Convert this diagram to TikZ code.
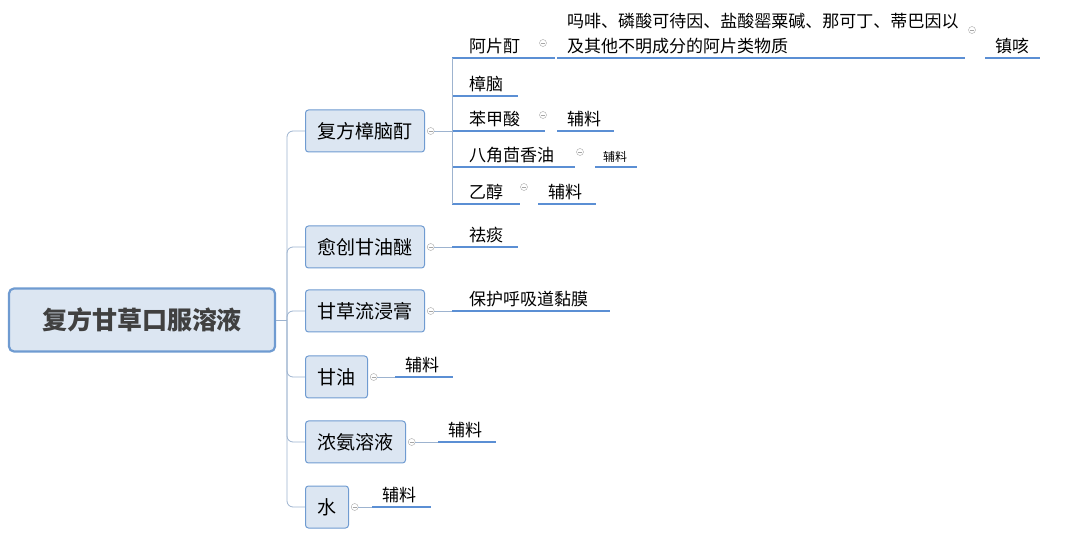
\documentclass[tikz,border=0pt]{standalone}
\usepackage{fontspec}
\setmainfont{Noto Sans CJK SC}
\XeTeXlinebreaklocale "zh"
\XeTeXlinebreakskip=0pt plus 1pt
\usetikzlibrary{positioning}
\definecolor{boxfill}{HTML}{DCE6F2}
\definecolor{boxline}{HTML}{6F9BD1}
\definecolor{uline}{HTML}{5B8FD4}
\definecolor{conn}{HTML}{9DB3CF}
\tikzset{
  topic/.style={draw=boxline,fill=boxfill,rounded corners=3pt,line width=1pt,font=\fontsize{19}{22}\selectfont,minimum height=42pt,inner xsep=12pt,anchor=west},
  roottopic/.style={draw=boxline,fill=boxfill,rounded corners=5pt,line width=2.2pt,font=\fontsize{25}{28}\selectfont\bfseries,minimum height=63pt,minimum width=266pt,text=black!75},
  leaf/.style={anchor=south west,inner xsep=17pt,inner ysep=4pt,font=\fontsize{17}{20}\selectfont,
    append after command={(\tikzlastnode.south west) edge[uline] ([xshift=#1]\tikzlastnode.south west)}},
  uline/.style={draw=uline,line width=1.3pt},
  fold/.style={circle,draw=gray!70,fill=white,minimum size=7pt,inner sep=0pt,
    path picture={\draw[gray!70,line width=0.5pt] ([xshift=-2pt]path picture bounding box.center) -- ([xshift=2pt]path picture bounding box.center);}},
  link/.style={draw=conn,line width=0.8pt,rounded corners=6pt}
}
\begin{document}
\begin{tikzpicture}[x=1pt,y=-1pt]
\useasboundingbox (0,0) rectangle (1080,537);
% root
\node[roottopic] (root) at (142,320) {复方甘草口服溶液};
\coordinate (trunk) at (287,320);
% main topics
\node[topic] (zhangnao) at (305,131) {复方樟脑酊};
\node[topic] (yuchuang) at (305,247) {愈创甘油醚};
\node[topic] (gancao) at (305,311) {甘草流浸膏};
\node[topic] (ganyou) at (305,377) {甘油};
\node[topic] (anrong) at (305,442) {浓氨溶液};
\node[topic] (shui) at (305,507) {水};
\draw[link] (root.east) -- (trunk);
\foreach \t in {zhangnao,yuchuang,gancao,ganyou,anrong,shui}
  \draw[link] (trunk) |- (\t.west);
% fold markers
\node[fold,right=2pt of zhangnao] (f1) {};
\node[fold,right=2pt of yuchuang] (f2) {};
\node[fold,right=2pt of gancao] (f3) {};
\node[fold,right=2pt of ganyou] (f4) {};
\node[fold,right=2pt of anrong] (f5) {};
\node[fold,right=2pt of shui] (f6) {};
% children of 复方樟脑酊
\node[leaf=103pt] (apian) at (452,58) {阿片酊};
\node[leaf=66pt] (zn) at (452,96) {樟脑};
\node[leaf=93pt] (bjs) at (452,131) {苯甲酸};
\node[leaf=123pt] (bajiao) at (452,167) {八角茴香油};
\node[leaf=68pt] (yichun) at (452,204) {乙醇};
\coordinate (sub) at (452,131);
\draw[link] (f1) -- (sub);
\draw[link,rounded corners=0pt] (apian.south west) -- (yichun.south west);
% 阿片酊 chain
\node[fold] (fa) at (543,43) {};
\node[leaf=408pt,text width=392pt,inner xsep=10pt,align=left,font=\fontsize{17}{25}\selectfont] (chengfen) at (557,58) {吗啡、磷酸可待因、盐酸罂粟碱、那可丁、蒂巴因以及其他不明成分的阿片类物质};
\node[fold] (fb) at (972,30) {};
\node[leaf=55pt,inner xsep=10pt] (zhenke) at (985,58) {镇咳};
% 辅料 leaves
\node[fold] (fc) at (543,115) {};
\node[leaf=57pt,inner xsep=10pt] (fl1) at (557,131) {辅料};
\node[fold] (fd) at (580,152) {};
\node[leaf=42pt,inner xsep=8pt,font=\fontsize{12}{14}\selectfont] (fl2) at (595,167) {辅料};
\node[fold] (fe) at (524,187) {};
\node[leaf=58pt,inner xsep=10pt] (fl3) at (538,204) {辅料};
% other topics
\node[leaf=66pt] (qutan) at (452,247) {祛痰};
\node[leaf=158pt] (baohu) at (452,311) {保护呼吸道黏膜};
\node[leaf=58pt,inner xsep=10pt] (fl4) at (395,377) {辅料};
\node[leaf=58pt,inner xsep=10pt] (fl5) at (438,442) {辅料};
\node[leaf=59pt,inner xsep=10pt] (fl6) at (372,507) {辅料};
\draw[link] (f2) -- (qutan.south west);
\draw[link] (f3) -- (baohu.south west);
\draw[link] (f4) -- (fl4.south west);
\draw[link] (f5) -- (fl5.south west);
\draw[link] (f6) -- (fl6.south west);
\end{tikzpicture}
\end{document}
